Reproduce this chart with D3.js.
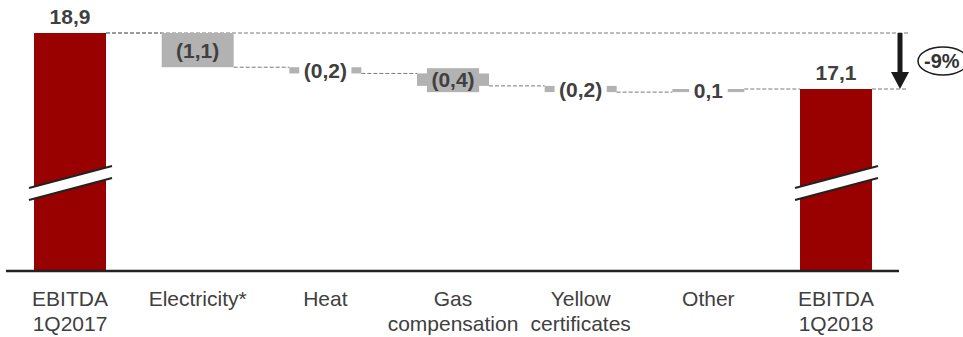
<!DOCTYPE html>
<html>
<head>
<meta charset="utf-8">
<script src="https://cdn.jsdelivr.net/npm/d3@7"></script>
<style>
  html, body { margin: 0; padding: 0; background: #fff; }
  svg { display: block; font-family: "Liberation Sans", Arial, sans-serif; }
</style>
</head>
<body>
<svg id="chart" width="963" height="337"></svg>
<script>
// ---- data ----
const categories = ["EBITDA 1Q2017", "Electricity*", "Heat", "Gas compensation", "Yellow certificates", "Other", "EBITDA 1Q2018"];
const categoryLines = [["EBITDA", "1Q2017"], ["Electricity*"], ["Heat"], ["Gas", "compensation"], ["Yellow", "certificates"], ["Other"], ["EBITDA", "1Q2018"]];
const values = [18.9, -1.1, -0.2, -0.4, -0.2, 0.1, 17.1];
const barTypes = ["total", "delta", "delta", "delta", "delta", "delta", "total"];
const valueLabels = ["18,9", "(1,1)", "(0,2)", "(0,4)", "(0,2)", "0,1", "17,1"];
const changeLabel = "-9%";

// ---- layout ----
const svg = d3.select("#chart");
const baseline = 271;
const red = "#990000", grey = "#b2b2b2", textCol = "#404040";

const x = d3.scalePoint().domain(categories).range([70, 836]);
const barW = x.step() * 0.564;
const y = d3.scaleLinear().domain([17.1, 18.9]).range([89, 33]);

// compute waterfall segments
let run = 0;
const bars = categories.map((c, i) => {
  let start, end;
  if (barTypes[i] === "total") { start = null; end = values[i]; run = values[i]; }
  else { start = run; end = run + values[i]; run = end; }
  return { cat: c, i, type: barTypes[i], start, end, label: valueLabels[i], lines: categoryLines[i] };
});

const first = bars[0], last = bars[bars.length - 1];
const refX = x(last.cat) + barW / 2 + 36;

// dashed reference lines and connectors
const dashed = svg.append("g").attr("stroke", "#7a7a7a").attr("stroke-width", 1).attr("stroke-dasharray", "4,2");
dashed.append("line").attr("x1", x(first.cat) + barW / 2).attr("x2", refX)
  .attr("y1", y(first.end)).attr("y2", y(first.end));
dashed.append("line").attr("x1", x(last.cat) + barW / 2).attr("x2", refX)
  .attr("y1", y(last.end)).attr("y2", y(last.end));
for (let i = 0; i < bars.length - 1; i++) {
  const lvl = bars[i].end;
  dashed.append("line")
    .attr("x1", x(bars[i].cat) + barW / 2).attr("x2", x(bars[i + 1].cat) - barW / 2)
    .attr("y1", y(lvl)).attr("y2", y(lvl));
}

// bars
svg.append("g").selectAll("rect").data(bars).join("rect")
  .attr("x", d => x(d.cat) - barW / 2)
  .attr("width", barW)
  .attr("y", d => d.type === "total" ? y(d.end) : y(Math.max(d.start, d.end)))
  .attr("height", d => d.type === "total" ? baseline - y(d.end) : Math.abs(y(d.start) - y(d.end)))
  .attr("fill", d => d.type === "total" ? red : grey);

// axis break marks on total bars
bars.filter(d => d.type === "total").forEach(d => {
  const xl = x(d.cat) - barW / 2 - 5, xr = x(d.cat) + barW / 2 + 6;
  const yl = baseline - 83, yr = baseline - 105, gap = 12;
  svg.append("polygon")
    .attr("points", [[xl, yl], [xr, yr], [xr, yr + gap], [xl, yl + gap]].map(p => p.join(",")).join(" "))
    .attr("fill", "#fff");
  [0, gap].forEach(o => svg.append("line")
    .attr("x1", xl).attr("y1", yl + o).attr("x2", xr).attr("y2", yr + o)
    .attr("stroke", "#222").attr("stroke-width", 2));
});

// baseline axis
svg.append("line").attr("x1", 6).attr("x2", 899).attr("y1", baseline).attr("y2", baseline)
  .attr("stroke", "#222").attr("stroke-width", 2.5);

// value labels
const labelBg = { "Heat": "#fff", "Gas compensation": grey, "Yellow certificates": "#fff", "Other": "#fff" };
bars.forEach(d => {
  let ty;
  if (d.type === "total") ty = y(d.end) - 9;
  else ty = (y(d.start) + y(d.end)) / 2 + 7.5;
  const g = svg.append("g");
  const t = g.append("text")
    .attr("x", x(d.cat)).attr("y", ty)
    .attr("text-anchor", "middle")
    .attr("font-size", 21).attr("font-weight", "bold")
    .attr("fill", textCol).text(d.label);
  const bg = labelBg[d.cat];
  if (bg) {
    const bb = t.node().getBBox();
    g.insert("rect", "text")
      .attr("x", bb.x - 4.5).attr("width", bb.width + 9)
      .attr("y", bb.y).attr("height", bb.height + 1)
      .attr("fill", bg);
  }
});

// category labels
bars.forEach(d => {
  const t = svg.append("text")
    .attr("x", x(d.cat)).attr("y", 306)
    .attr("text-anchor", "middle").attr("font-size", 21).attr("fill", textCol);
  d.lines.forEach((ln, k) => t.append("tspan").attr("x", x(d.cat)).attr("dy", k === 0 ? 0 : 24.5).text(ln));
});

// change arrow
const ax = refX - 8;
svg.append("line").attr("x1", ax).attr("x2", ax).attr("y1", y(first.end)).attr("y2", y(last.end) - 14)
  .attr("stroke", "#1a1a1a").attr("stroke-width", 5);
svg.append("polygon")
  .attr("points", [[ax - 9, y(last.end) - 17], [ax + 9, y(last.end) - 17], [ax, y(last.end)]].map(p => p.join(",")).join(" "))
  .attr("fill", "#1a1a1a");

// change bubble
const cy = (y(first.end) + y(last.end)) / 2;
svg.append("ellipse").attr("cx", 943).attr("cy", cy).attr("rx", 25).attr("ry", 14)
  .attr("fill", "#fff").attr("stroke", "#1a1a1a").attr("stroke-width", 1.5);
svg.append("text").attr("x", 924).attr("y", cy + 7).attr("font-size", 20).attr("font-weight", "bold")
  .attr("fill", "#333").text(changeLabel);
</script>
</body>
</html>
